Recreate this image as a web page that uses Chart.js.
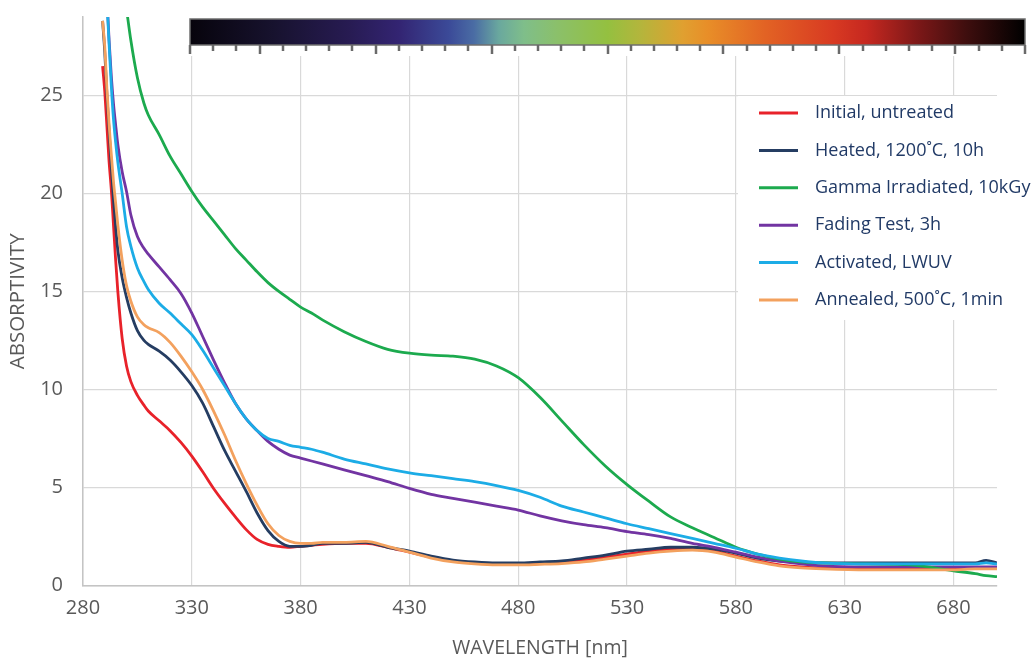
<!DOCTYPE html>
<html>
<head>
<meta charset="utf-8">
<title>Absorptivity spectra</title>
<script src="https://cdn.jsdelivr.net/npm/chart.js@4.4.0/dist/chart.umd.min.js"></script>
<style>
    html, body { margin: 0; padding: 0; background: #fff; }
    #wrap { width: 1033px; height: 660px; }
</style>
</head>
<body>
<div id="wrap"><canvas id="spectrum" width="1033" height="660"></canvas></div>
<script>
// Wavelength grid (nm) shared by all series
const wavelengths = [289, 290, 291, 292, 293, 294, 295, 296, 298, 300, 302, 305, 308, 310,
    315, 320, 325, 330, 335, 340, 345, 350, 355, 360, 365, 370, 375, 380, 385, 390,
    400, 410, 420, 430, 440, 450, 460, 470, 480, 490, 500, 510, 520, 530, 540, 550,
    560, 570, 580, 590, 600, 610, 620, 640, 660, 680, 690, 695, 700];

const initialUntreated = [26.5, 25.2, 23.4, 21.6, 20.2, 18.4, 16.6, 15.0, 12.6, 11.2, 10.4, 9.7, 9.2, 8.9,
    8.4, 7.9, 7.3, 6.6, 5.8, 4.95, 4.2, 3.5, 2.85, 2.35, 2.1, 2.0, 1.95, 2.0, 2.05, 2.1,
    2.15, 2.15, 1.95, 1.7, 1.45, 1.25, 1.15, 1.1, 1.1, 1.12, 1.2, 1.3, 1.45, 1.6, 1.75, 1.85,
    1.85, 1.75, 1.5, 1.25, 1.05, 0.95, 0.9, 0.9, 0.9, 0.9, 0.9, 0.9, 0.9];

const heated1200 = [28.8, 27.2, 25.0, 23.2, 21.4, 19.7, 18.3, 17.1, 15.7, 14.7, 13.9, 13.0, 12.5, 12.3,
    11.95, 11.5, 10.9, 10.2, 9.3, 8.1, 6.9, 5.85, 4.8, 3.7, 2.8, 2.25, 2.0, 2.0, 2.05, 2.15,
    2.15, 2.2, 1.95, 1.75, 1.5, 1.3, 1.2, 1.15, 1.15, 1.2, 1.25, 1.4, 1.55, 1.75, 1.85, 1.95,
    1.95, 1.85, 1.65, 1.4, 1.25, 1.2, 1.15, 1.15, 1.15, 1.15, 1.15, 1.28, 1.15];

const gammaIrradiated = [null, null, null, null, null, null, null, null, null, 29.4, 27.8, 25.9, 24.6, 24.0,
    23.0, 21.9, 21.0, 20.1, 19.3, 18.6, 17.9, 17.2, 16.6, 16.0, 15.45, 15.0, 14.6, 14.2, 13.9, 13.55,
    12.95, 12.45, 12.05, 11.85, 11.75, 11.7, 11.55, 11.2, 10.6, 9.6, 8.4, 7.2, 6.1, 5.15, 4.3, 3.5,
    2.95, 2.45, 1.95, 1.6, 1.35, 1.2, 1.15, 1.1, 1.05, 0.75, 0.6, 0.5, 0.45];

const fadingTest = [null, null, 30.0, 27.8, 26.0, 24.6, 23.5, 22.5, 21.1, 20.1, 18.9, 17.8, 17.2, 16.9,
    16.25, 15.6, 14.9, 13.9, 12.7, 11.5, 10.35, 9.3, 8.5, 7.9, 7.35, 6.95, 6.65, 6.5, 6.35, 6.2,
    5.9, 5.6, 5.3, 4.95, 4.65, 4.45, 4.25, 4.05, 3.85, 3.55, 3.3, 3.1, 2.95, 2.75, 2.6, 2.4,
    2.15, 1.95, 1.7, 1.45, 1.25, 1.1, 1.0, 0.95, 0.95, 0.95, 0.95, 0.95, 0.95];

const activatedLwuv = [null, null, 29.8, 27.6, 25.5, 23.8, 22.6, 21.6, 20.0, 18.3, 17.3, 16.2, 15.5, 15.1,
    14.4, 13.9, 13.35, 12.8, 12.0, 11.1, 10.2, 9.3, 8.5, 7.9, 7.5, 7.35, 7.15, 7.05, 6.95, 6.8,
    6.45, 6.2, 5.95, 5.75, 5.6, 5.45, 5.3, 5.1, 4.85, 4.5, 4.05, 3.75, 3.45, 3.15, 2.9, 2.65,
    2.4, 2.15, 1.9, 1.6, 1.4, 1.25, 1.15, 1.1, 1.1, 1.1, 1.1, 1.15, 1.1];

const annealed500 = [28.8, 27.5, 25.3, 23.5, 22.0, 20.6, 19.5, 18.4, 16.6, 15.3, 14.5, 13.7, 13.3, 13.15,
    12.9, 12.4, 11.7, 10.9, 10.0, 8.9, 7.7, 6.4, 5.2, 4.1, 3.15, 2.55, 2.25, 2.15, 2.15, 2.2,
    2.2, 2.25, 2.0, 1.7, 1.4, 1.2, 1.1, 1.05, 1.05, 1.08, 1.12, 1.2, 1.35, 1.5, 1.65, 1.75,
    1.8, 1.7, 1.45, 1.2, 1.0, 0.9, 0.85, 0.8, 0.8, 0.8, 0.85, 0.85, 0.85];

const seriesLabels = ['Initial, untreated', 'Heated, 1200\u02DAC, 10h', 'Gamma Irradiated, 10kGy',
    'Fading Test, 3h', 'Activated, LWUV', 'Annealed, 500\u02DAC, 1min'];
const seriesColors = ['#e8222a', '#253d62', '#1caa4e', '#7234a2', '#1cace6', '#f3a15e'];
const seriesValues = [initialUntreated, heated1200, gammaIrradiated, fadingTest, activatedLwuv, annealed500];
const drawOrder = [5, 4, 2, 3, 1, 0];

const xTicks = [280, 330, 380, 430, 480, 530, 580, 630, 680];
const yTicks = [0, 5, 10, 15, 20, 25];

const FONT = '"Open Sans", sans-serif';
const TEXT_GREY = '#595959';

function toPoints(values) {
    const pts = [];
    values.forEach((v, i) => {
        if (v !== null) pts.push({ x: wavelengths[i], y: v });
    });
    return pts;
}

/**
 * Spectrum colour bar drawn across the top of the plot
 */
const colorBarPlugin = {
    id: 'colorBar',
    afterDraw(chart) {
        const ctx = chart.ctx;
        const x0 = 190, x1 = 1025, y0 = 19, y1 = 45;

        ctx.save();
        // white backing hides the grid behind the bar
        ctx.fillStyle = '#ffffff';
        ctx.fillRect(184, 0, 849, 56);

        const grad = ctx.createLinearGradient(x0, 0, x1, 0);
        grad.addColorStop(0.00, '#07040c');
        grad.addColorStop(0.10, '#17122e');
        grad.addColorStop(0.19, '#271b52');
        grad.addColorStop(0.25, '#332472');
        grad.addColorStop(0.31, '#3b4a98');
        grad.addColorStop(0.34, '#4a6ca4');
        grad.addColorStop(0.37, '#6aa89e');
        grad.addColorStop(0.40, '#7fbe8a');
        grad.addColorStop(0.44, '#8bc06a');
        grad.addColorStop(0.50, '#94c040');
        grad.addColorStop(0.54, '#b4b53c');
        grad.addColorStop(0.59, '#e0a030');
        grad.addColorStop(0.62, '#e88e28');
        grad.addColorStop(0.69, '#e26224');
        grad.addColorStop(0.77, '#d83a22');
        grad.addColorStop(0.81, '#c62820');
        grad.addColorStop(0.87, '#7e1818');
        grad.addColorStop(0.93, '#3e0e0e');
        grad.addColorStop(1.00, '#000000');
        ctx.fillStyle = grad;
        ctx.fillRect(x0, y0, x1 - x0, y1 - y0);
        ctx.strokeStyle = '#6f6f6f';
        ctx.lineWidth = 1.5;
        ctx.strokeRect(x0, y0, x1 - x0, y1 - y0);

        // tick marks under the bar
        const n = 36;
        const step = (x1 - x0) / n;
        ctx.strokeStyle = '#6a6a6a';
        ctx.lineWidth = 2.5;
        for (let i = 0; i <= n; i++) {
            const x = Math.round(x0 + i * step);
            const major = (i - 3) % 5 === 0 || i === 0 || i === n;
            ctx.beginPath();
            ctx.moveTo(x, y1);
            ctx.lineTo(x, y1 + (major ? 9 : 6));
            ctx.stroke();
        }
        ctx.restore();
    }
};

/**
 * Legend box inside the plot, top right
 */
const legendBoxPlugin = {
    id: 'legendBox',
    afterDraw(chart) {
        const ctx = chart.ctx;
        ctx.save();
        ctx.fillStyle = '#ffffff';
        ctx.fillRect(738, 96, 295, 224);

        ctx.font = '18px ' + FONT;
        ctx.textBaseline = 'middle';
        ctx.textAlign = 'left';
        chart.data.datasets.forEach((ds, i) => {
            const y = 113 + i * 37.4;
            ctx.strokeStyle = ds.borderColor;
            ctx.lineWidth = 3;
            ctx.beginPath();
            ctx.moveTo(759, y);
            ctx.lineTo(798, y);
            ctx.stroke();
            ctx.fillStyle = '#213a66';
            ctx.fillText(ds.label, 815, y);
        });
        ctx.restore();
    }
};

const datasets = seriesLabels.map((label, i) => ({
    label: label,
    data: toPoints(seriesValues[i]),
    borderColor: seriesColors[i],
    backgroundColor: seriesColors[i],
    borderWidth: 2.8,
    pointRadius: 0,
    fill: false,
    cubicInterpolationMode: 'monotone',
    order: drawOrder[i]
}));

new Chart(document.getElementById('spectrum'), {
    type: 'line',
    data: { datasets: datasets },
    options: {
        responsive: false,
        animation: false,
        devicePixelRatio: 1,
        layout: { padding: { top: 17, right: 36, left: 0, bottom: 0 } },
        plugins: {
            legend: { display: false },
            tooltip: { enabled: false }
        },
        scales: {
            x: {
                type: 'linear',
                min: 280,
                max: 700,
                afterBuildTicks: scale => { scale.ticks = xTicks.map(v => ({ value: v })); },
                afterFit: scale => { scale.height = 74.5; },
                grid: { color: '#d9d9d9', lineWidth: 1.2, drawTicks: true, tickLength: 9, tickColor: 'rgba(0,0,0,0)' },
                border: { color: '#c4c4c4', width: 1.5 },
                ticks: {
                    color: TEXT_GREY,
                    font: { family: FONT, size: 20 },
                    padding: 2,
                    maxRotation: 0
                },
                title: {
                    display: true,
                    text: 'WAVELENGTH [nm]',
                    color: TEXT_GREY,
                    font: { family: FONT, size: 19.5 },
                    padding: { top: 0, bottom: 0 }
                }
            },
            y: {
                min: 0,
                max: 29,
                afterBuildTicks: scale => { scale.ticks = yTicks.map(v => ({ value: v })); },
                afterFit: scale => { scale.width = 83; },
                grid: { color: '#d9d9d9', lineWidth: 1.2, drawTicks: true, tickLength: 18, tickColor: 'rgba(0,0,0,0)' },
                border: { color: '#c4c4c4', width: 1.5 },
                ticks: {
                    color: TEXT_GREY,
                    font: { family: FONT, size: 20 },
                    padding: 2
                },
                title: {
                    display: true,
                    text: 'ABSORPTIVITY',
                    color: TEXT_GREY,
                    font: { family: FONT, size: 20.5 },
                    padding: { top: 6, bottom: 0 }
                }
            }
        }
    },
    plugins: [colorBarPlugin, legendBoxPlugin]
});
</script>
</body>
</html>
